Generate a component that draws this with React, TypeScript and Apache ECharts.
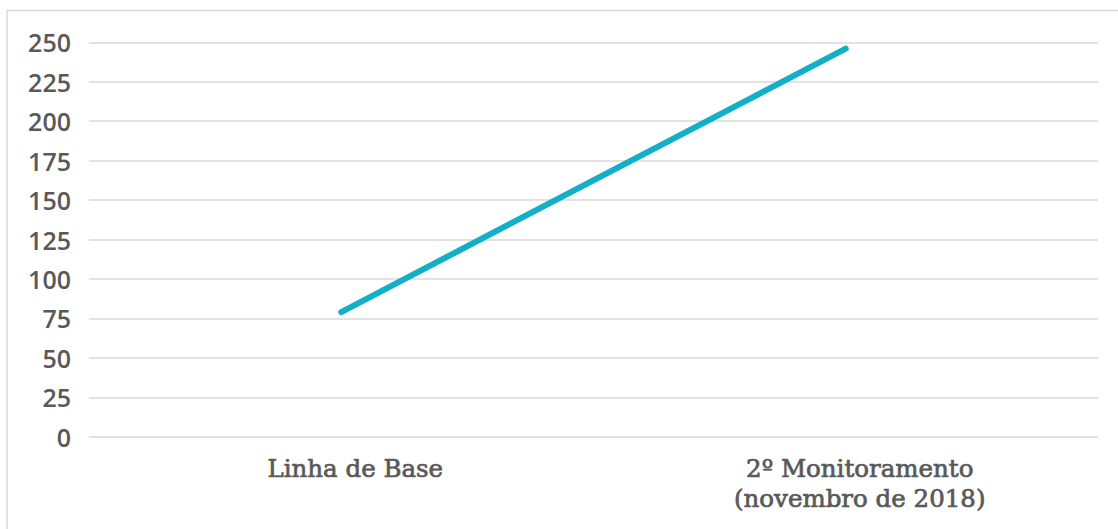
import React, { useEffect, useRef } from "react";
import * as echarts from "echarts";

const categories = ["Linha de Base", "2º Monitoramento\n(novembro de 2018)"];
const values = [79, 246];
const yMin = 0;
const yMax = 250;
const yStep = 25;

export default function App() {
  const ref = useRef<HTMLDivElement>(null);
  useEffect(() => {
    const chart = echarts.init(ref.current!, null, { renderer: "svg" });
    chart.setOption({
      animation: false,
      backgroundColor: "#ffffff",
      graphic: [
        {
          type: "rect",
          shape: { x: 7, y: 10.5, width: 1200, height: 600 },
          style: { fill: "none", stroke: "#d9d9d9", lineWidth: 1.5 },
          silent: true,
        },
      ],
      grid: { left: 89, right: 20, top: 42.3, bottom: 92.3 },
      xAxis: {
        type: "category",
        data: categories,
        boundaryGap: true,
        axisLine: { show: false },
        axisTick: { show: false },
        axisLabel: {
          interval: 0,
          margin: 17,
          color: "#595959",
          fontFamily: "DejaVu Serif",
          fontSize: 24.5,
          lineHeight: 30,
          padding: [0, 0, 0, 28],
          textBorderColor: "#595959",
          textBorderWidth: 0.7,
        },
      },
      yAxis: {
        type: "value",
        min: yMin,
        max: yMax,
        interval: yStep,
        axisLine: { show: false },
        axisTick: { show: false },
        splitLine: { lineStyle: { color: "#d9d9d9", width: 1.5 } },
        axisLabel: {
          margin: 18,
          color: "#595959",
          fontFamily: "Open Sans",
          fontWeight: 600,
          fontSize: 25,
        },
      },
      series: [
        {
          type: "line",
          data: values,
          symbol: "none",
          lineStyle: { color: "#12B0C8", width: 6, cap: "round" },
        },
      ],
    });
    return () => chart.dispose();
  }, []);
  return (
    <div
      ref={ref}
      style={{ position: "fixed", left: 0, top: 0, width: 1118, height: 529 }}
    />
  );
}
